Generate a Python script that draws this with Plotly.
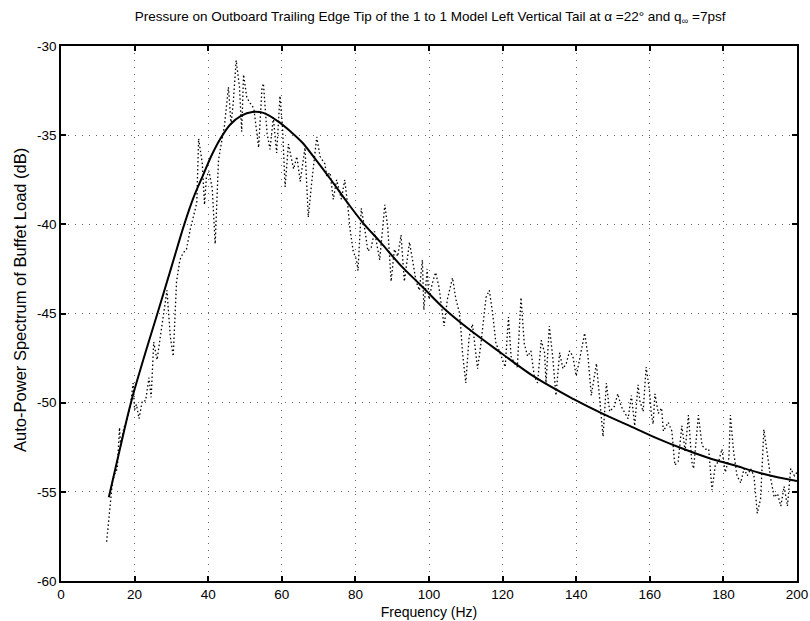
import plotly.graph_objects as go

# measured auto-power spectrum (dotted trace)
freq_meas = [12.4, 13.5, 14.0, 14.6, 15.3, 15.9, 16.2, 17.1, 18.0, 18.9, 19.6, 20.0, 20.5, 21.2,
             22.1, 23.0, 23.9, 24.5, 25.2, 26.1, 27.0, 27.9, 28.8, 29.7, 30.5, 31.4, 32.3, 33.2,
             34.1, 35.1, 36.0, 36.9, 37.4, 38.4, 39.0, 39.5, 40.2, 41.1, 41.9, 42.8, 43.7, 44.4,
             45.5, 46.2, 46.8, 47.6, 48.5, 49.1, 49.6, 50.5, 51.4, 52.4, 53.7, 54.6, 55.0, 56.0,
             56.8, 57.7, 58.6, 59.5, 60.2, 60.9, 61.8, 63.2, 64.1, 65.0, 66.3, 67.2, 68.1, 69.5,
             70.4, 71.7, 72.2, 73.1, 74.0, 74.9, 76.2, 77.1, 78.0, 78.5, 79.4, 80.3, 80.7, 81.6,
             82.5, 83.4, 84.3, 85.2, 86.6, 88.0, 88.8, 89.7, 90.6, 91.5, 92.4, 93.3, 94.7, 95.6,
             96.5, 97.4, 98.2, 98.6, 99.5, 100.0, 100.9, 101.8, 102.7, 104.1, 105.0, 106.4, 107.3,
             108.2, 108.6, 109.1, 110.0, 110.9, 111.8, 112.7, 113.2, 114.1, 115.5, 116.4, 117.3,
             118.2, 119.1, 120.0, 120.7, 121.6, 122.3, 123.2, 124.0, 125.0, 125.9, 126.8, 127.7,
             128.6, 129.5, 130.5, 131.4, 131.8, 132.7, 133.6, 134.5, 135.5, 136.4, 137.3, 138.2,
             139.1, 140.0, 140.9, 142.3, 143.2, 144.1, 145.5, 146.4, 147.3, 148.2, 149.1, 150.4,
             151.3, 152.2, 153.2, 154.1, 155.0, 155.9, 156.8, 157.3, 158.2, 159.0, 159.9, 160.4,
             160.9, 161.4, 162.3, 163.2, 163.7, 165.0, 166.0, 166.8, 167.7, 168.7, 169.6, 170.5,
             171.4, 171.9, 173.2, 174.2, 175.1, 176.0, 176.9, 177.8, 178.7, 179.6, 180.5, 181.5,
             181.9, 182.8, 183.7, 184.7, 185.6, 186.5, 187.4, 188.3, 189.2, 190.1, 191.0, 191.9,
             192.9, 193.8, 194.7, 195.6, 196.5, 197.4, 198.3, 199.3, 200.0]
db_meas = [-57.8, -55.6, -54.4, -54.0, -53.7, -51.4, -52.4, -51.4, -50.9, -50.1, -48.9, -50.4, -50.1, -50.9,
           -49.9, -49.9, -48.6, -49.7, -46.6, -47.6, -46.3, -44.9, -43.7, -46.3, -47.4, -43.2, -42.0, -41.6,
           -41.4, -40.3, -39.6, -38.8, -35.2, -36.6, -38.9, -37.4, -37.0, -38.0, -41.1, -36.4, -35.3, -34.5,
           -32.3, -34.4, -33.2, -30.8, -32.3, -34.8, -31.6, -32.9, -33.2, -33.5, -35.7, -32.4, -32.1, -34.9,
           -35.8, -34.0, -36.0, -32.8, -34.6, -37.9, -35.5, -36.9, -36.2, -37.6, -35.7, -39.6, -37.7, -35.1,
           -36.2, -36.6, -37.3, -37.1, -38.6, -37.5, -38.6, -37.5, -39.1, -40.2, -41.5, -42.0, -42.6, -39.1,
           -40.2, -41.5, -41.3, -40.4, -42.0, -38.9, -40.2, -43.2, -41.4, -41.8, -40.6, -43.2, -41.0, -42.1,
           -43.2, -43.7, -42.0, -44.8, -42.5, -44.2, -43.3, -42.7, -43.5, -45.7, -44.2, -43.0, -44.2,
           -44.9, -45.7, -47.2, -48.9, -46.3, -45.6, -47.2, -48.1, -46.7, -44.1, -43.7, -45.0,
           -46.7, -47.1, -47.6, -48.0, -45.2, -47.4, -47.8, -48.0, -44.1, -46.7, -47.4, -47.1,
           -48.5, -48.9, -46.5, -47.2, -48.9, -45.7, -47.4, -49.6, -47.2, -48.1, -47.8, -47.1,
           -47.4, -48.5, -47.6, -46.1, -47.4, -49.6, -47.8, -50.0, -51.9, -48.9, -50.5, -50.2,
           -49.5, -50.2, -50.6, -50.9, -49.6, -51.3, -49.0, -49.9, -50.5, -48.0, -49.3, -50.6,
           -51.2, -49.5, -50.6, -50.3, -51.6, -51.1, -51.6, -53.5, -53.3, -51.3, -52.7, -50.7,
           -53.3, -53.7, -50.7, -52.4, -52.6, -52.6, -54.9, -53.5, -53.3, -52.6, -53.9, -53.1,
           -50.7, -52.8, -54.1, -54.5, -53.7, -54.1, -53.7, -54.1, -56.2, -55.4, -51.5, -52.8,
           -54.3, -55.3, -55.1, -55.8, -54.7, -55.8, -53.7, -54.1, -53.9]

# fitted spectrum (solid curve)
freq_fit = [13, 16, 19, 22.5, 26.2, 30, 33.5, 36, 38.7, 41, 43.3, 46, 49, 52, 55, 58.8, 62.4, 65.5,
            68.6, 73, 77.9, 82, 86.8, 92.3, 97.7, 104, 111, 119.5, 129, 139.3, 147, 155.6, 162,
            169.2, 176, 182.7, 191, 200]
db_fit = [-55.3, -52.6, -50.0, -47.5, -45.0, -42.4, -40.0, -38.5, -37.2, -36.1, -35.2, -34.4, -33.9,
          -33.7, -33.75, -34.2, -34.8, -35.4, -36.2, -37.4, -38.8, -39.9, -41.0, -42.3, -43.4, -44.7,
          -45.9, -47.2, -48.6, -49.8, -50.6, -51.4, -52.0, -52.6, -53.1, -53.5, -54.0, -54.4]

x_ticks = [0, 20, 40, 60, 80, 100, 120, 140, 160, 180, 200]
y_ticks = [-60, -55, -50, -45, -40, -35, -30]

fig = go.Figure()
fig.add_trace(go.Scatter(x=freq_meas, y=db_meas, mode="lines",
                         line=dict(color="black", width=1.3, dash="1.5px,2.5px"), showlegend=False))
fig.add_trace(go.Scatter(x=freq_fit, y=db_fit, mode="lines",
                         line=dict(color="black", width=2, shape="spline"), showlegend=False))

axis_style = dict(showline=True, linecolor="black", linewidth=1.5, mirror="ticks",
                  ticks="inside", ticklen=5, tickcolor="black", tickwidth=1.5,
                  showgrid=True, gridcolor="#666", gridwidth=1, griddash="1px,6px",
                  zeroline=False, automargin=False,
                  tickfont=dict(family="Arial", size=13.5, color="black"))

fig.update_xaxes(range=[0, 200], tickvals=x_ticks, ticktext=[str(t) for t in x_ticks],
                 title=dict(text="Frequency (Hz)", font=dict(family="Arial", size=14, color="black"),
                            standoff=6),
                 **axis_style)
fig.update_yaxes(range=[-60, -30], tickvals=y_ticks, ticktext=[str(t) for t in y_ticks],
                 **axis_style)

# y title as an annotation so it can sit closer to the page edge
fig.add_annotation(text="Auto-Power Spectrum of Buffet Load (dB)", textangle=-90,
                   xref="paper", yref="paper", x=-0.056, y=0.525,
                   xanchor="center", yanchor="middle", showarrow=False,
                   font=dict(family="Arial", size=16.5, color="black"))

fig.update_layout(
    width=810, height=621,
    paper_bgcolor="white", plot_bgcolor="white",
    margin=dict(l=61, r=13, t=46, b=40),
    title=dict(text="Pressure on Outboard Trailing Edge Tip of the 1 to 1 Model Left Vertical Tail at α =22° and q<sub>∞</sub> =7psf",
               font=dict(family="Arial", size=13.5, color="black"),
               x=0.531, xanchor="center", y=0.973, yanchor="middle"),
)

# drop the default page margin so the figure fills the window exactly
fig.write_html("out.html", config={"displayModeBar": False},
               post_script="document.body.style.margin='0';document.body.style.overflow='hidden';")
